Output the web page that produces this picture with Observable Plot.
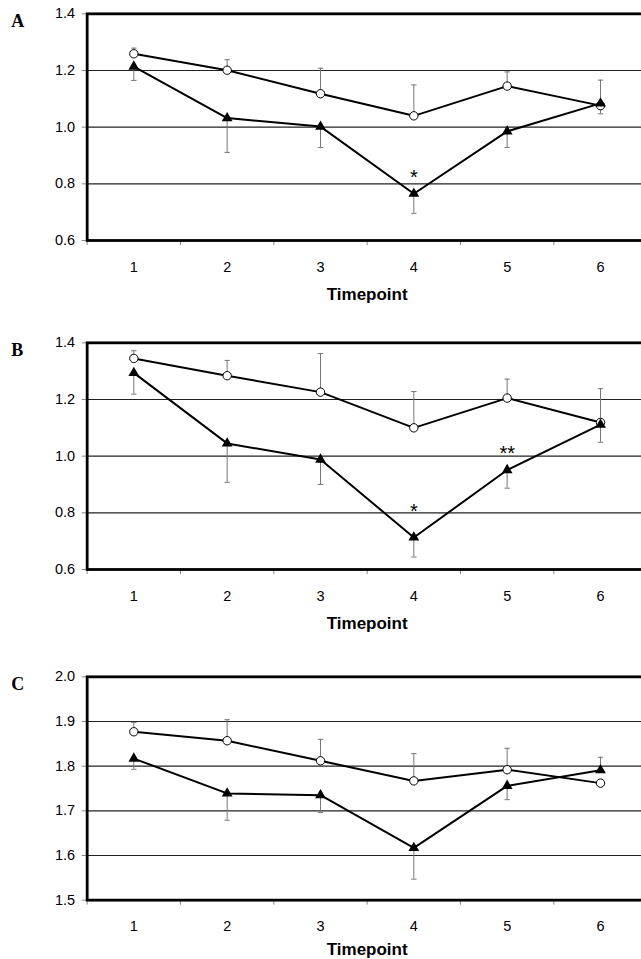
<!DOCTYPE html>
<html><head><meta charset="utf-8">
<script src="https://cdn.jsdelivr.net/npm/d3@7"></script>
<script src="https://cdn.jsdelivr.net/npm/@observablehq/plot@0.6"></script>
<style>
html,body{margin:0;padding:0;background:#fff;overflow:hidden;}
#wrap{position:relative;width:641px;height:959px;overflow:hidden;background:#fff;}
</style></head><body><div id="wrap"></div>
<script>
// ---- shared ----
const timepoints = [1, 2, 3, 4, 5, 6];
const tickLabels = ["1", "2", "3", "4", "5", "6"];
const axisTitle = "Timepoint";

// ---- Panel A ----
const circleA    = [1.259, 1.201, 1.118, 1.040, 1.145, 1.076];
const circleErrA = [1.279, 1.238, 1.208, 1.149, 1.195, 1.166]; // upper bar ends
const triA       = [1.214, 1.032, 1.002, 0.765, 0.985, 1.084];
const triErrA    = [1.165, 0.911, 0.928, 0.696, 0.928, 1.047]; // lower bar ends
const yTicksA    = [0.6, 0.8, 1.0, 1.2, 1.4];
const starTimesA = [4];
const starYA     = [0.841];
const starTextA  = ["*"];

// ---- Panel B ----
const circleB    = [1.345, 1.284, 1.226, 1.100, 1.205, 1.119];
const circleErrB = [1.372, 1.338, 1.362, 1.228, 1.272, 1.238];
const triB       = [1.294, 1.045, 0.988, 0.713, 0.951, 1.111];
const triErrB    = [1.219, 0.908, 0.900, 0.644, 0.887, 1.049];
const yTicksB    = [0.6, 0.8, 1.0, 1.2, 1.4];
const starTimesB = [4, 5];
const starYB     = [0.821, 1.027];
const starTextB  = ["*", "**"];

// ---- Panel C ----
const circleC    = [1.877, 1.857, 1.812, 1.767, 1.792, 1.762];
const circleErrC = [1.898, 1.904, 1.860, 1.828, 1.840, null];
const triC       = [1.817, 1.739, 1.735, 1.617, 1.756, 1.791];
const triErrC    = [1.793, 1.679, 1.696, 1.547, 1.725, 1.820];
const yTicksC    = [1.5, 1.6, 1.7, 1.8, 1.9, 2.0];
const starTimesC = [];
const starYC     = [];
const starTextC  = [];

const cap = {draw(ctx) { ctx.moveTo(-2.7, 0); ctx.lineTo(2.7, 0); }};
const SANS = "'Liberation Sans', Arial, Helvetica, sans-serif";

function panel(letter, circ, circErr, tri, triErr, yTicks, starT, starY, starTxt, plotHeight, top, titleDy) {
  const rows = timepoints.map((t, i) => ({t, c: circ[i], ce: circErr[i], r: tri[i], re: triErr[i]}));
  const stars = starT.map((t, i) => ({t, y: starY[i], label: starTxt[i]}));
  const separators = timepoints.map(t => t - 0.5).concat([timepoints[timepoints.length - 1] + 0.5]);
  const mt = 13.33, mb = 64;
  const svg = Plot.plot({
    width: 660,
    height: mt + plotHeight + mb,
    marginLeft: 86.67, marginRight: 13.33, marginTop: mt, marginBottom: mb,
    style: {fontFamily: SANS, fontSize: "14px", color: "#000", background: "transparent", maxWidth: "none"},
    x: {domain: [0.5, 6.5]},
    y: {domain: [yTicks[0], yTicks[yTicks.length - 1]]},
    marks: [
      Plot.ruleY(yTicks.slice(1, -1), {stroke: "#222", strokeWidth: 1.2}),
      Plot.axisY({ticks: yTicks, tickSize: 5, tickPadding: 7, tickFormat: d3.format(".1f"),
                  stroke: "#888", fill: "#000", fontSize: 14.5, label: null}),
      Plot.axisX({ticks: separators, tickSize: 5, tickFormat: () => "", stroke: "#888", label: null}),
      Plot.axisX({ticks: timepoints, tickSize: 0, tickPadding: 21,
                  tickFormat: d => tickLabels[timepoints.indexOf(d)], fill: "#000", fontSize: 14.5, label: null}),
      // error bars
      Plot.ruleX(rows.filter(d => d.ce != null), {x: "t", y1: "c", y2: "ce", stroke: "#777", strokeWidth: 1}),
      Plot.dot(rows.filter(d => d.ce != null), {x: "t", y: "ce", symbol: cap, fill: "none", stroke: "#777", strokeWidth: 1}),
      Plot.ruleX(rows.filter(d => d.re != null), {x: "t", y1: "r", y2: "re", stroke: "#777", strokeWidth: 1}),
      Plot.dot(rows.filter(d => d.re != null), {x: "t", y: "re", symbol: cap, fill: "none", stroke: "#777", strokeWidth: 1}),
      // lines
      Plot.line(rows, {x: "t", y: "c", stroke: "#000", strokeWidth: 2}),
      Plot.line(rows, {x: "t", y: "r", stroke: "#000", strokeWidth: 2}),
      // markers
      Plot.dot(rows, {x: "t", y: "c", r: 4.2, fill: "#fff", stroke: "#000", strokeWidth: 1}),
      Plot.dot(rows, {x: "t", y: "r", symbol: "triangle", r: 4, fill: "#000", stroke: "none"}),
      // frame
      Plot.frame({stroke: "#000", strokeWidth: 2.8}),
      // significance marks
      Plot.text(stars, {x: "t", y: "y", text: "label", fontSize: 20, dy: 5, fill: "#000"}),
      // axis title
      Plot.text([axisTitle], {frameAnchor: "bottom", dy: titleDy, lineAnchor: "top",
                              fontSize: 17, fontWeight: "bold", fill: "#000"}),
      // panel letter
      Plot.text([letter], {frameAnchor: "top-left", dx: -76, dy: 13.4, lineAnchor: "bottom", textAnchor: "start",
                           fontFamily: "'Liberation Serif', 'Times New Roman', serif", fontWeight: "bold",
                           fontSize: 18, fill: "#000"})
    ]
  });
  svg.style.position = "absolute";
  svg.style.left = "0px";
  svg.style.top = top + "px";
  svg.style.maxWidth = "none";
  document.getElementById("wrap").appendChild(svg);
}

panel("A", circleA, circleErrA, triA, triErrA, yTicksA, starTimesA, starYA, starTextA, 226.67, 0, 47);
panel("B", circleB, circleErrB, triB, triErrB, yTicksB, starTimesB, starYB, starTextB, 226.67, 329.4, 47);
panel("C", circleC, circleErrC, triC, triErrC, yTicksC, starTimesC, starYC, starTextC, 223.33, 662.7, 42.5);
</script>
</body></html>
